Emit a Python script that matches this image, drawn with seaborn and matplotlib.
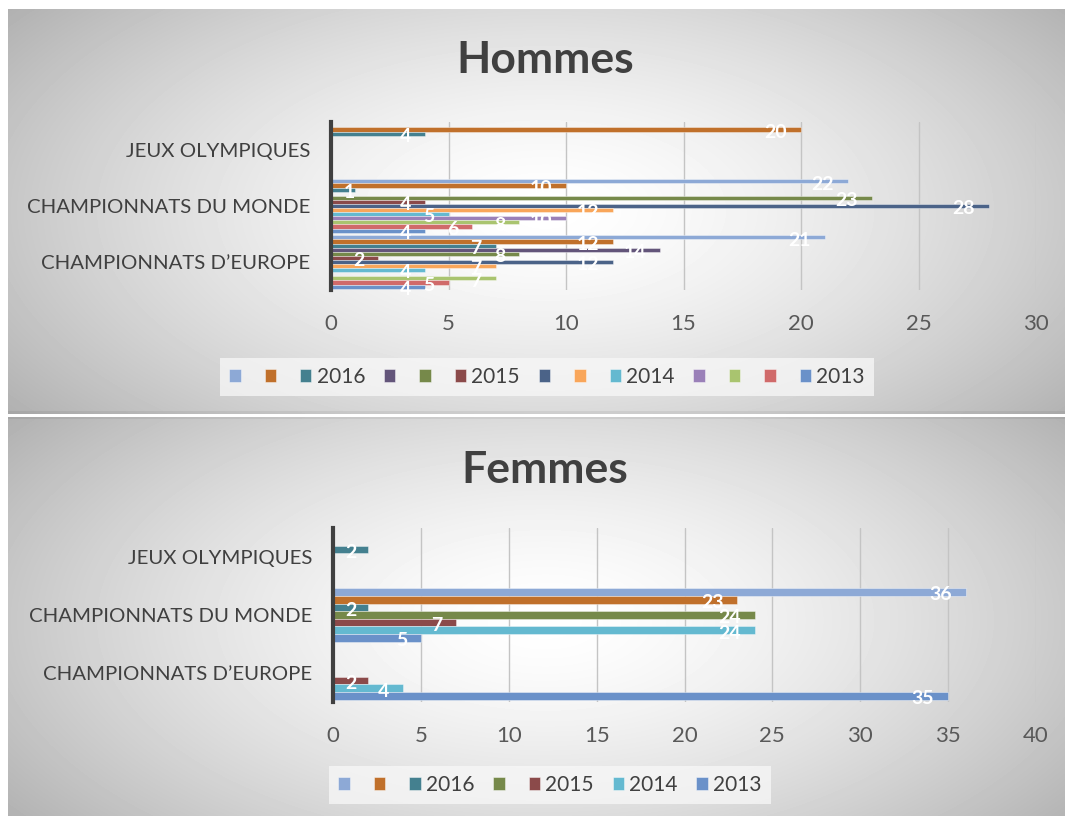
import numpy as np
import pandas as pd
import seaborn as sns
import matplotlib.pyplot as plt
from matplotlib.patches import Patch

# categories (top to bottom)
categories = ["JEUX OLYMPIQUES", "CHAMPIONNATS DU MONDE", "CHAMPIONNATS D\u2019EUROPE"]

# Hommes: one list per series, values for [JO, monde, europe], None = no bar
h_series = ["h1", "h2", "h3", "h4", "h5", "h6", "h7", "h8", "h9", "h10", "h11", "h12", "h13"]
h_legend = ["", "", "2016", "", "", "2015", "", "", "2014", "", "", "", "2013"]
h_colors = ["#8DA9D6", "#C0702B", "#44808F", "#63557A", "#76894A", "#8B4A4A", "#4B6388",
            "#F9A65A", "#64B9D0", "#9A80B8", "#A9C46F", "#D06A6A", "#6A91C9"]
h1 = [None, 22, 21]
h2 = [20, 10, 12]
h3 = [4, 1, 7]
h4 = [None, None, 14]
h5 = [None, 23, 8]
h6 = [None, 4, 2]
h7 = [None, 28, 12]
h8 = [None, 12, 7]
h9 = [None, 5, 4]
h10 = [None, 10, None]
h11 = [None, 8, 7]
h12 = [None, 6, 5]
h13 = [None, 4, 4]
h_values = [h1, h2, h3, h4, h5, h6, h7, h8, h9, h10, h11, h12, h13]

# Femmes
f_series = ["f1", "f2", "f3", "f4", "f5", "f6", "f7"]
f_legend = ["", "", "2016", "", "2015", "2014", "2013"]
f_colors = ["#8DA9D6", "#C0702B", "#44808F", "#76894A", "#8B4A4A", "#64B9D0", "#6A91C9"]
f1 = [None, 36, None]
f2 = [None, 23, None]
f3 = [2, 2, None]
f4 = [None, 24, None]
f5 = [None, 7, 2]
f6 = [None, 24, 4]
f7 = [None, 5, 35]
f_values = [f1, f2, f3, f4, f5, f6, f7]

sns.set_theme(style="white")
plt.rcParams['font.family'] = ['Lato', 'DejaVu Sans']

W, H = 1065, 816
fig = plt.figure(figsize=(W / 100, H / 100), dpi=100)

# grey radial background, two panels
yy, xx = np.mgrid[0:H, 0:W]
img = np.ones((H, W))


def panel(y0, y1, cy):
    r = np.sqrt(((xx - 545) / 600.0) ** 2 + ((yy - cy) / 300.0) ** 2)
    v = 1 - 0.26 * np.clip(r, 0, 1.25) ** 1.5
    m = (yy >= y0) & (yy < y1) & (xx >= 8)
    img[m] = v[m]


panel(9, 414, 210)
panel(417, 816, 620)
img[411:414, 8:] *= 0.94
img[417:419, 8:] *= 0.94
fig.figimage(img, 0, 0, cmap="gray", vmin=0, vmax=1, zorder=-10)


def draw(ax, series, values, colors, legend_labels, width, xmax, min_lab, title, title_y, leg_xy):
    rows = []
    for s, vals in zip(series, values):
        for cat, v in zip(categories, vals):
            if v is not None:
                rows.append({"cat": cat, "serie": s, "value": v})
    df = pd.DataFrame(rows)
    pal = dict(zip(series, colors))
    sns.barplot(data=df, x="value", y="cat", hue="serie", order=categories, hue_order=series,
                palette=pal, orient="h", width=width, saturation=1, errorbar=None,
                edgecolor=(1, 1, 1, 0.45), linewidth=0.6, legend=False, ax=ax)

    for cont in ax.containers:
        for p in cont.patches:
            w = p.get_width()
            if np.isnan(w):
                continue
            yc = p.get_y() + p.get_height() / 2
            ax.annotate(f"{w:.0f}", xy=(max(w, min_lab), yc), xytext=(-10, -2),
                        textcoords="offset points", ha="right", va="center",
                        color="white", fontsize=14, fontweight="bold", zorder=5)

    ax.set_facecolor("none")
    ax.set_xlim(0, xmax)
    ax.set_xticks(range(0, xmax + 1, 5))
    ax.set_ylim(2.5, -0.5)
    ax.set_xlabel("")
    ax.set_ylabel("")
    ax.grid(axis="x", color="#c4c4c4", lw=1)
    ax.grid(axis="y", visible=False)
    ax.set_axisbelow(True)
    for s in ["top", "right", "bottom"]:
        ax.spines[s].set_visible(False)
    ax.spines["left"].set_color("#404040")
    ax.spines["left"].set_linewidth(3)
    ax.tick_params(axis="x", length=0, pad=17, labelsize=16, labelcolor="#595959")
    ax.tick_params(axis="y", length=0, pad=15, labelsize=14.7, labelcolor="#404040")

    fig.text(545 / W, title_y, title, ha="center", va="center", fontsize=32,
             fontweight="bold", color="#404040")

    handles = [Patch(facecolor=c, edgecolor=(1, 1, 1, 0.5), lw=0.6) for c in colors]
    leg = ax.legend(handles, legend_labels, loc="center", bbox_to_anchor=leg_xy,
                    bbox_transform=fig.transFigure, ncol=len(series), frameon=True,
                    facecolor="#f8f8f8", edgecolor="none", framealpha=0.75, fancybox=False,
                    fontsize=15, handlelength=0.55, handleheight=0.55, handletextpad=0.25,
                    columnspacing=0.9, borderpad=0.45)
    for t in leg.get_texts():
        t.set_color("#404040")


ax1 = fig.add_axes([331 / W, 1 - 290 / H, 705 / W, 168 / H])
draw(ax1, h_series, h_values, h_colors, h_legend, 0.95, 30, 1.6, "Hommes", 1 - 60 / H,
     (547 / W, 1 - 377 / H))

ax2 = fig.add_axes([333 / W, 1 - 702 / H, 703 / W, 174 / H])
draw(ax2, f_series, f_values, f_colors, f_legend, 0.92, 40, 2.15, "Femmes", 1 - 470 / H,
     (550 / W, 1 - 785 / H))

fig.savefig("out.png", dpi=100)
